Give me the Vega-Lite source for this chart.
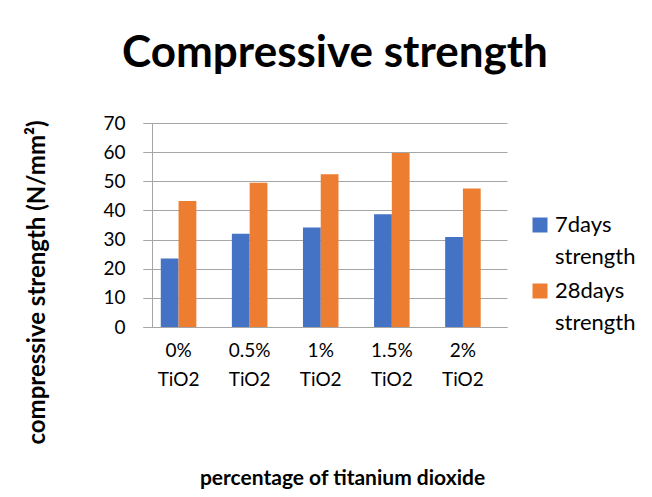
{
  "$schema": "https://vega.github.io/schema/vega-lite/v6.json",
  "autosize": {"type": "none"},
  "width": 364,
  "height": 204,
  "padding": {"left": 143, "top": 123, "right": 145, "bottom": 170},
  "background": "white",
  "config": {
    "font": "Lato",
    "view": {"stroke": null}
  },
  "title": {
    "text": "Compressive strength",
    "font": "Lato",
    "fontSize": 44,
    "fontWeight": "bold",
    "color": "#000000",
    "anchor": "middle",
    "dx": 10,
    "offset": 38
  },
  "data": {
    "values": [
      {"cat": "0% TiO2", "series": "7days strength", "value": 23.5},
      {"cat": "0% TiO2", "series": "28days strength", "value": 43.2},
      {"cat": "0.5% TiO2", "series": "7days strength", "value": 32.0},
      {"cat": "0.5% TiO2", "series": "28days strength", "value": 49.5},
      {"cat": "1% TiO2", "series": "7days strength", "value": 34.1},
      {"cat": "1% TiO2", "series": "28days strength", "value": 52.4},
      {"cat": "1.5% TiO2", "series": "7days strength", "value": 38.7},
      {"cat": "1.5% TiO2", "series": "28days strength", "value": 59.7},
      {"cat": "2% TiO2", "series": "7days strength", "value": 30.9},
      {"cat": "2% TiO2", "series": "28days strength", "value": 47.5}
    ]
  },
  "mark": {"type": "bar"},
  "encoding": {
    "x": {
      "field": "cat",
      "type": "nominal",
      "sort": ["0% TiO2", "0.5% TiO2", "1% TiO2", "1.5% TiO2", "2% TiO2"],
      "scale": {"paddingInner": 0, "paddingOuter": 0.06, "align": 0},
      "axis": {
        "title": "percentage of titanium dioxide",
        "titleFont": "Lato",
        "titleFontSize": 21,
        "titleFontWeight": "bold",
        "titleColor": "#000000",
        "titleX": 199,
        "titleY": 151,
        "titleAlign": "center",
        "titleBaseline": "middle",
        "labelExpr": "split(datum.label, ' ')",
        "labelAngle": 0,
        "labelFont": "Lato",
        "labelFontSize": 19,
        "labelColor": "#000000",
        "labelLineHeight": 29,
        "labelPadding": 14,
        "ticks": false,
        "domain": true,
        "domainColor": "#a6a6a6",
        "grid": false
      }
    },
    "xOffset": {
      "field": "series",
      "type": "nominal",
      "sort": ["7days strength", "28days strength"],
      "scale": {"paddingInner": 0, "paddingOuter": 1.22}
    },
    "y": {
      "field": "value",
      "type": "quantitative",
      "scale": {"domain": [0, 70], "nice": false},
      "axis": {
        "values": [0, 10, 20, 30, 40, 50, 60, 70],
        "title": "compressive strength (N/mm²)",
        "titleFont": "Lato",
        "titleFontSize": 24,
        "titleFontWeight": "bold",
        "titleColor": "#000000",
        "titleAngle": -90,
        "titleX": -115,
        "titleY": 159,
        "titleAlign": "center",
        "titleBaseline": "middle",
        "offset": -9,
        "domain": true,
        "domainColor": "#a6a6a6",
        "ticks": true,
        "tickSize": 9,
        "tickColor": "#a6a6a6",
        "grid": true,
        "gridColor": "#a6a6a6",
        "labelFont": "Lato",
        "labelFontSize": 19,
        "labelColor": "#000000",
        "labelPadding": 18
      }
    },
    "color": {
      "field": "series",
      "type": "nominal",
      "sort": ["7days strength", "28days strength"],
      "scale": {"domain": ["7days strength", "28days strength"], "range": ["#4472C4", "#ED7D31"]},
      "legend": {
        "title": null,
        "orient": "none",
        "legendX": 386,
        "legendY": 91,
        "symbolType": "square",
        "symbolSize": 225,
        "symbolStrokeWidth": 0,
        "labelExpr": "split(datum.label, ' ')",
        "labelFont": "Lato",
        "labelFontSize": 22,
        "labelColor": "#000000",
        "labelOffset": 4,
        "rowPadding": 12,
        "padding": 0,
        "encode": {
          "labels": {"update": {"lineHeight": {"value": 32}}}
        }
      }
    }
  }
}
